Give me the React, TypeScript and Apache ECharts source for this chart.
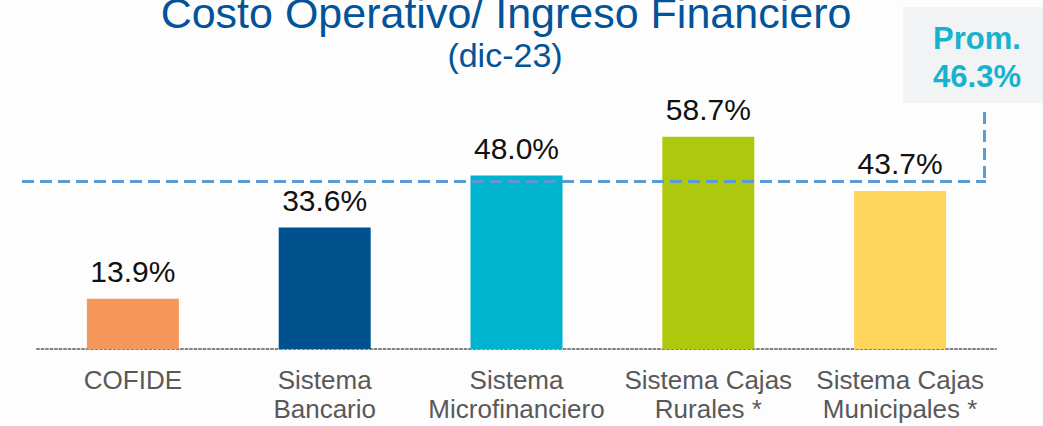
import React, { useEffect, useRef } from "react";
import * as echarts from "echarts";

const categories = [
  "COFIDE",
  "Sistema\nBancario",
  "Sistema\nMicrofinanciero",
  "Sistema Cajas\nRurales *",
  "Sistema Cajas\nMunicipales *",
];
const values = [13.9, 33.6, 48.0, 58.7, 43.7];
const barColors = ["#F5975A", "#00528F", "#00B3CF", "#AEC90D", "#FED65B"];
const AVERAGE = 46.3;
const TITLE = "Costo Operativo/ Ingreso Financiero";
const SUBTITLE = "(dic-23)";
const AVG_LABEL = "Prom.";

const FONT = "'Liberation Sans', Arial, sans-serif";

export default function App() {
  const ref = useRef<HTMLDivElement>(null);
  useEffect(() => {
    document.body.style.margin = "0";
    const chart = echarts.init(ref.current!, null, { renderer: "svg" });
    chart.setOption({
      animation: false,
      backgroundColor: "#FDFDFD",
      grid: { left: 37, right: 47, top: 132, bottom: 77 },
      xAxis: {
        type: "category",
        data: categories,
        axisTick: { show: false },
        axisLine: {
          show: true,
          lineStyle: { color: "#808080", width: 2, type: [2, 2.5] },
        },
        axisLabel: {
          color: "#595959",
          fontFamily: FONT,
          fontSize: 26,
          lineHeight: 29,
          margin: 16,
          interval: 0,
        },
      },
      yAxis: { type: "value", min: 0, max: 60, show: false, splitLine: { show: false } },
      series: [
        {
          type: "bar",
          barWidth: 92,
          data: values.map((v, i) => ({ value: v, itemStyle: { color: barColors[i] } })),
          label: {
            show: true,
            position: "top",
            distance: 12,
            color: "#111",
            fontFamily: FONT,
            fontSize: 30,
            formatter: (p: any) => p.value.toFixed(1) + "%",
          },
          markLine: {
            silent: true,
            symbol: "none",
            label: { show: false },
            lineStyle: { color: "#5B9BD5", width: 3, type: [12, 6] },
            data: [[{ x: 22, yAxis: AVERAGE }, { x: 986, yAxis: AVERAGE }]],
          },
        },
      ],
    });
    const yPx = chart.convertToPixel({ yAxisIndex: 0 }, AVERAGE) as number;
    chart.setOption({
      graphic: [
        {
          type: "text",
          x: 506,
          y: 13,
          style: {
            text: TITLE,
            fill: "#03539A",
            font: `43px ${FONT}`,
            textAlign: "center",
            textVerticalAlign: "middle",
          },
        },
        {
          type: "text",
          x: 505,
          y: 55,
          style: {
            text: SUBTITLE,
            fill: "#03539A",
            font: `34px ${FONT}`,
            textAlign: "center",
            textVerticalAlign: "middle",
          },
        },
        {
          type: "rect",
          shape: { x: 903, y: 7, width: 140, height: 96 },
          style: { fill: "#F1F3F5" },
        },
        {
          type: "text",
          x: 977,
          y: 38,
          style: {
            text: AVG_LABEL,
            fill: "#17B2CE",
            font: `bold 31px ${FONT}`,
            textAlign: "center",
            textVerticalAlign: "middle",
          },
        },
        {
          type: "text",
          x: 977,
          y: 76,
          style: {
            text: AVERAGE.toFixed(1) + "%",
            fill: "#17B2CE",
            font: `bold 31px ${FONT}`,
            textAlign: "center",
            textVerticalAlign: "middle",
          },
        },
        {
          type: "line",
          shape: { x1: 984.5, y1: 112, x2: 984.5, y2: yPx + 1.5 },
          style: { stroke: "#5B9BD5", lineWidth: 3, lineDash: [12, 6] },
        },
      ],
    });
    return () => chart.dispose();
  }, []);
  return <div ref={ref} style={{ width: 1043, height: 426 }} />;
}
